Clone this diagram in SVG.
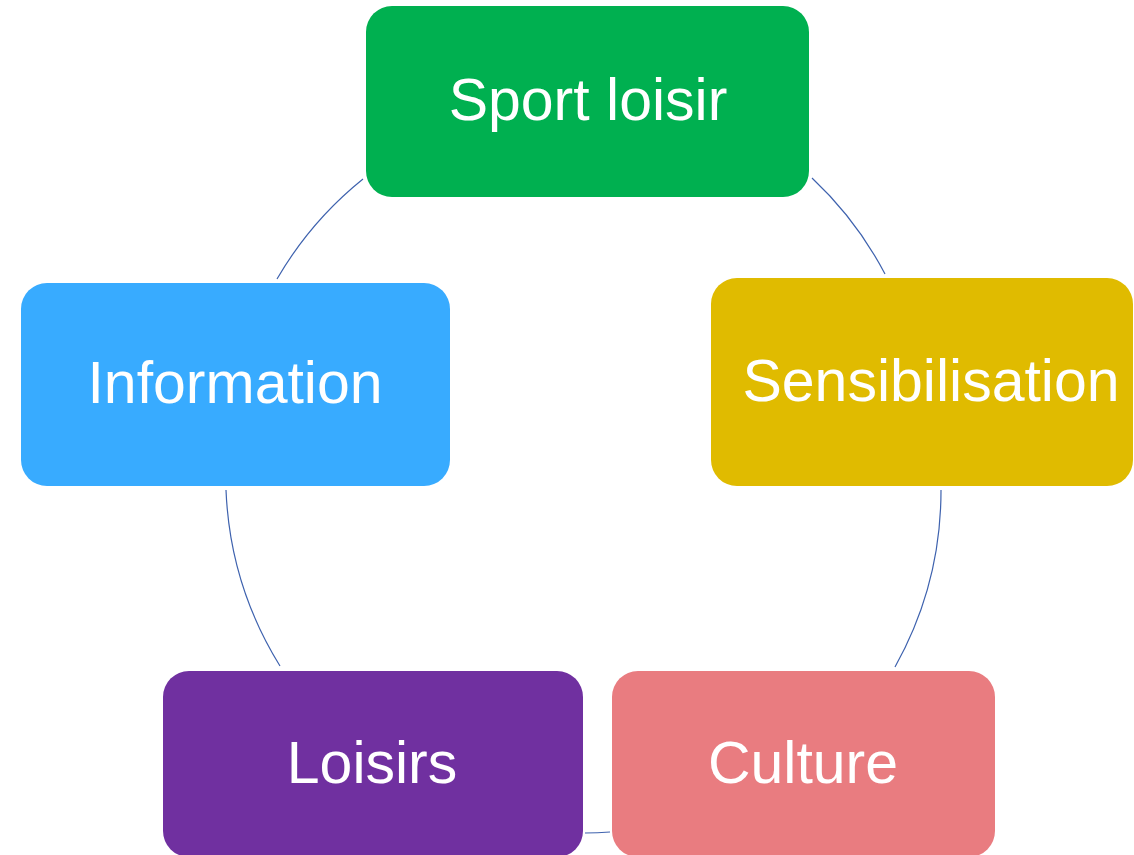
<svg xmlns="http://www.w3.org/2000/svg" width="1134" height="855" viewBox="0 0 1134 855">
<style>
.lbl{font-family:"Liberation Sans",Arial,sans-serif;font-size:59px;fill:#fff;text-anchor:middle}
.arc{fill:none;stroke:#3E62AE;stroke-width:1.2}
</style>
<rect width="1134" height="855" fill="#fff"/>
<g id="connectors">
<path class="arc" d="M812,178 A362,362 0 0 1 885,274"/>
<path class="arc" d="M941,490 A362,362 0 0 1 895,667"/>
<path class="arc" d="M610,832 A362,362 0 0 1 585,833"/>
<path class="arc" d="M280,666 A362,362 0 0 1 226,490"/>
<path class="arc" d="M277,279 A362,362 0 0 1 363,179"/>
</g>
<g id="sport-loisir">
<rect x="366" y="6" width="443" height="191" rx="26" fill="#00B050"/>
<text class="lbl" x="588" y="120">Sport loisir</text>
</g>
<g id="sensibilisation">
<rect x="711" y="278" width="422" height="208" rx="26" fill="#E0BB00"/>
<text class="lbl" x="931" y="401">Sensibilisation</text>
</g>
<g id="culture">
<rect x="612" y="671" width="383" height="186" rx="26" fill="#E97C80"/>
<text class="lbl" x="803" y="783">Culture</text>
</g>
<g id="loisirs">
<rect x="163" y="671" width="420" height="186" rx="26" fill="#7030A0"/>
<text class="lbl" x="372" y="783">Loisirs</text>
</g>
<g id="information">
<rect x="21" y="283" width="429" height="203" rx="26" fill="#38ABFF"/>
<text class="lbl" x="235" y="403">Information</text>
</g>
</svg>
